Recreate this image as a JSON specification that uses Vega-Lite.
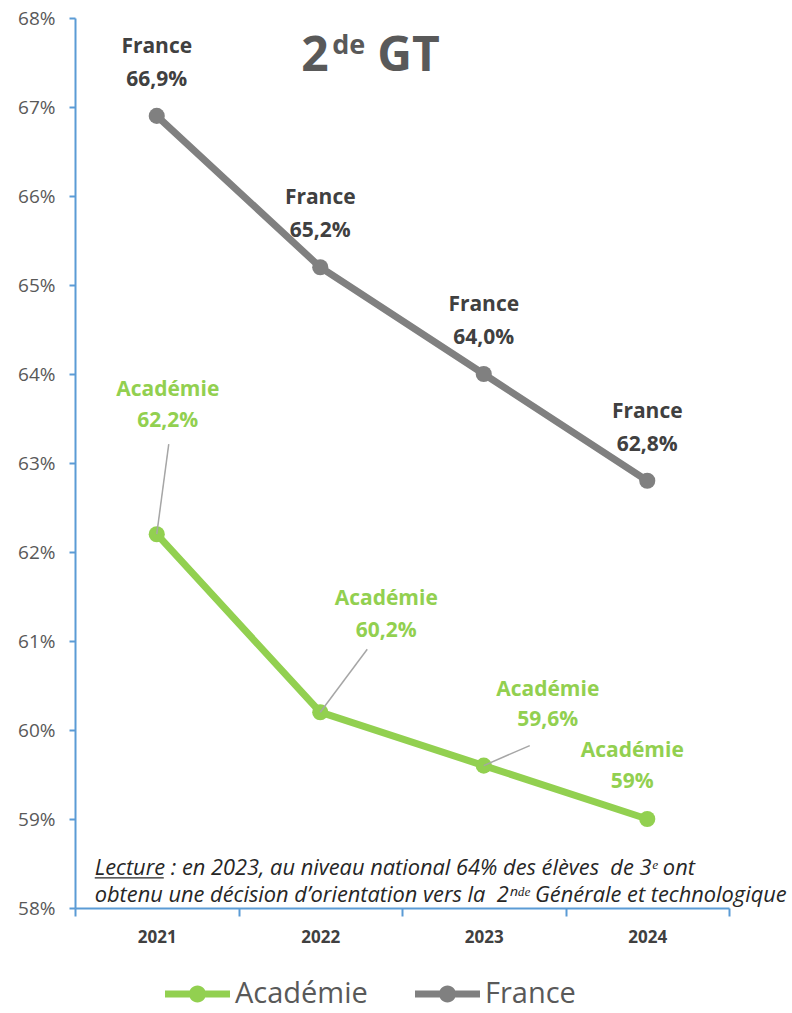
{
  "$schema": "https://vega.github.io/schema/vega-lite/v6.json",
  "width": 654,
  "height": 890,
  "autosize": "none",
  "padding": {"left": 75, "top": 18, "right": 63, "bottom": 105},
  "background": "white",
  "config": {"font": "Open Sans", "view": {"stroke": null}},
  "datasets": {
    "taux": [
      {"annee": "2021", "serie": "Académie", "taux": 0.622, "label": "Académie\n62,2%"},
      {"annee": "2022", "serie": "Académie", "taux": 0.602, "label": "Académie\n60,2%"},
      {"annee": "2023", "serie": "Académie", "taux": 0.596, "label": "Académie\n59,6%"},
      {"annee": "2024", "serie": "Académie", "taux": 0.590, "label": "Académie\n59%"},
      {"annee": "2021", "serie": "France", "taux": 0.669, "label": "France\n66,9%"},
      {"annee": "2022", "serie": "France", "taux": 0.652, "label": "France\n65,2%"},
      {"annee": "2023", "serie": "France", "taux": 0.640, "label": "France\n64,0%"},
      {"annee": "2024", "serie": "France", "taux": 0.628, "label": "France\n62,8%"}
    ],
    "textes": [
      {"id": "t1", "t": "2"},
      {"id": "t2", "t": "de"},
      {"id": "t3", "t": "GT"},
      {"id": "lect", "t": "Lecture : en 2023, au niveau national 64% des élèves\u00a0 de 3ᵉ ont\nobtenu une décision d’orientation vers la\u00a0 2ⁿᵈᵉ Générale et technologique"}
    ]
  },
  "layer": [
    {
      "data": {"name": "taux"},
      "encoding": {
        "x": {
          "field": "annee", "type": "ordinal",
          "scale": {"type": "band", "domain": ["2021", "2022", "2023", "2024"], "paddingInner": 0, "paddingOuter": 0},
          "axis": {
            "title": null, "labelAngle": 0, "tickBand": "extent",
            "domainColor": "#5B9BD5", "domainWidth": 2, "tickColor": "#5B9BD5", "tickWidth": 2, "tickSize": 8,
            "labelFont": "Open Sans", "labelFontWeight": "bold", "labelFontSize": 17, "labelColor": "#404040", "labelPadding": 13,
            "grid": false
          }
        },
        "y": {
          "field": "taux", "type": "quantitative",
          "scale": {"domain": [0.58, 0.68], "nice": false, "zero": false},
          "axis": {
            "title": null, "format": ".0%", "values": [0.58, 0.59, 0.60, 0.61, 0.62, 0.63, 0.64, 0.65, 0.66, 0.67, 0.68],
            "domainColor": "#5B9BD5", "domainWidth": 2, "tickColor": "#5B9BD5", "tickWidth": 2, "tickSize": 6,
            "labelFont": "Open Sans", "labelFontSize": 19, "labelColor": "#595959", "labelPadding": 14, "grid": false
          }
        },
        "color": {
          "field": "serie", "type": "nominal",
          "scale": {"domain": ["Académie", "France"], "range": ["#92D050", "#808080"]},
          "legend": {
            "title": null, "orient": "none", "legendX": 90, "legendY": 956, "direction": "horizontal",
            "padding": 0, "symbolSize": 1600, "columnPadding": 47, "labelOffset": 30,
            "symbolType": "M -1 -0.175 L 2.25 -0.175 L 2.25 0.175 L -1 0.175 Z M 0.2 0 A 0.425 0.425 0 1 1 1.05 0 A 0.425 0.425 0 1 1 0.2 0 Z",
            "symbolStrokeWidth": 0,
            "labelFont": "Open Sans", "labelFontSize": 29, "labelColor": "#595959", "labelLimit": 300,
            "encode": {"symbols": {"update": {"fill": {"scale": "color", "field": "value"}, "opacity": {"value": 1}, "strokeWidth": {"value": 0}}}}
          }
        }
      },
      "layer": [
        {"mark": {"type": "line", "strokeWidth": 7}},
        {"mark": {"type": "point", "filled": true, "size": 260, "opacity": 1}},
        {
          "transform": [{"filter": "datum.serie === 'France'"}],
          "mark": {"type": "text", "lineBreak": "\n", "lineHeight": 33, "fontSize": 21, "fontWeight": "bold", "baseline": "middle", "dy": -69},
          "encoding": {"text": {"field": "label"}, "color": {"value": "#404040"}}
        },
        {
          "transform": [{"filter": "datum.serie === 'Académie' && datum.annee === '2021'"}],
          "mark": {"type": "rule", "strokeWidth": 1.5, "x2Offset": 12, "y2Offset": -90},
          "encoding": {"x2": {"field": "annee"}, "y2": {"field": "taux"}, "color": {"value": "#A6A6A6"}}
        },
        {
          "transform": [{"filter": "datum.serie === 'Académie' && datum.annee === '2022'"}],
          "mark": {"type": "rule", "strokeWidth": 1.5, "x2Offset": 47, "y2Offset": -63},
          "encoding": {"x2": {"field": "annee"}, "y2": {"field": "taux"}, "color": {"value": "#A6A6A6"}}
        },
        {
          "transform": [{"filter": "datum.serie === 'Académie' && datum.annee === '2023'"}],
          "mark": {"type": "rule", "strokeWidth": 1.5, "x2Offset": 46, "y2Offset": -20},
          "encoding": {"x2": {"field": "annee"}, "y2": {"field": "taux"}, "color": {"value": "#A6A6A6"}}
        },
        {
          "transform": [{"filter": "datum.serie === 'Académie' && datum.annee === '2021'"}],
          "mark": {"type": "text", "lineBreak": "\n", "lineHeight": 31, "fontSize": 21, "fontWeight": "bold", "baseline": "middle", "dx": 11, "dy": -144},
          "encoding": {"text": {"field": "label"}, "color": {"value": "#92D050"}}
        },
        {
          "transform": [{"filter": "datum.serie === 'Académie' && datum.annee === '2022'"}],
          "mark": {"type": "text", "lineBreak": "\n", "lineHeight": 32, "fontSize": 21, "fontWeight": "bold", "baseline": "middle", "dx": 66, "dy": -113},
          "encoding": {"text": {"field": "label"}, "color": {"value": "#92D050"}}
        },
        {
          "transform": [{"filter": "datum.serie === 'Académie' && datum.annee === '2023'"}],
          "mark": {"type": "text", "lineBreak": "\n", "lineHeight": 30, "fontSize": 21, "fontWeight": "bold", "baseline": "middle", "dx": 64, "dy": -76},
          "encoding": {"text": {"field": "label"}, "color": {"value": "#92D050"}}
        },
        {
          "transform": [{"filter": "datum.serie === 'Académie' && datum.annee === '2024'"}],
          "mark": {"type": "text", "lineBreak": "\n", "lineHeight": 31, "fontSize": 21, "fontWeight": "bold", "baseline": "middle", "dx": -15, "dy": -68},
          "encoding": {"text": {"field": "label"}, "color": {"value": "#92D050"}}
        }
      ]
    },
    {
      "data": {"name": "textes"},
      "transform": [{"filter": "datum.id === 't1'"}],
      "mark": {"type": "text", "fontSize": 48, "fontWeight": "bold", "align": "left", "baseline": "alphabetic", "dx": -19},
      "encoding": {"x": {"datum": "2022", "type": "ordinal"}, "y": {"datum": 0.674, "type": "quantitative"}, "text": {"field": "t"}, "color": {"value": "#595959"}}
    },
    {
      "data": {"name": "textes"},
      "transform": [{"filter": "datum.id === 't2'"}],
      "mark": {"type": "text", "fontSize": 27, "fontWeight": "bold", "align": "left", "baseline": "alphabetic", "dx": 12, "dy": -17},
      "encoding": {"x": {"datum": "2022", "type": "ordinal"}, "y": {"datum": 0.674, "type": "quantitative"}, "text": {"field": "t"}, "color": {"value": "#595959"}}
    },
    {
      "data": {"name": "textes"},
      "transform": [{"filter": "datum.id === 't3'"}],
      "mark": {"type": "text", "fontSize": 48, "fontWeight": "bold", "align": "left", "baseline": "alphabetic", "dx": 57},
      "encoding": {"x": {"datum": "2022", "type": "ordinal"}, "y": {"datum": 0.674, "type": "quantitative"}, "text": {"field": "t"}, "color": {"value": "#595959"}}
    },
    {
      "data": {"name": "textes"},
      "transform": [{"filter": "datum.id === 'lect'"}],
      "mark": {"type": "text", "lineBreak": "\n", "lineHeight": 27, "fontSize": 21.8, "fontStyle": "italic", "align": "left", "baseline": "middle", "dx": -62},
      "encoding": {"x": {"datum": "2021", "type": "ordinal"}, "y": {"datum": 0.5845, "type": "quantitative"}, "text": {"field": "t"}, "color": {"value": "#262626"}}
    },
    {
      "data": {"name": "textes"},
      "transform": [{"filter": "datum.id === 'lect'"}],
      "mark": {"type": "rule", "strokeWidth": 1.2, "xOffset": -62, "x2Offset": 7, "yOffset": 10, "y2Offset": 10},
      "encoding": {"x": {"datum": "2021", "type": "ordinal"}, "x2": {"datum": "2021"}, "y": {"datum": 0.5845, "type": "quantitative"}, "color": {"value": "#262626"}}
    }
  ]
}
